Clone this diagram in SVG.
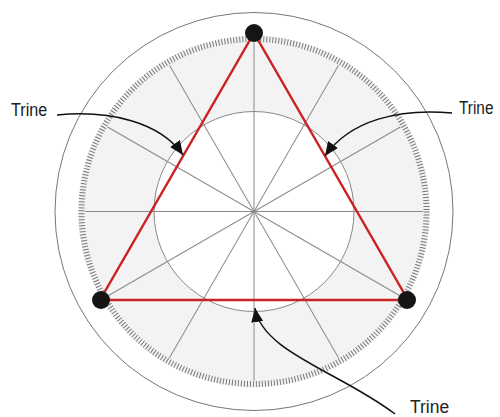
<svg xmlns="http://www.w3.org/2000/svg" width="500" height="417" viewBox="0 0 500 417">
<style>
.lbl{font-family:"Liberation Sans","Noto Sans",sans-serif;font-size:19px;fill:#222}
.spoke{stroke:#8a8a8a;stroke-width:1}
.arr{fill:none;stroke:#111;stroke-width:1.5}
</style>
<defs>
<marker id="ah" markerUnits="userSpaceOnUse" markerWidth="16" markerHeight="12" refX="14" refY="6" orient="auto">
<path d="M0,0 L14,6 L0,12 Z" fill="#111"/>
</marker>
</defs>
<rect width="500" height="417" fill="#fff"/>
<g id="wheel">
<circle cx="254" cy="211.5" r="199" fill="none" stroke="#777" stroke-width="1"/>
<circle cx="254" cy="211.5" r="176" fill="#f3f3f3"/>
<circle cx="254" cy="211.5" r="172.5" fill="none" stroke="#777" stroke-width="6" stroke-dasharray="1 2.0107"/>
<circle cx="254" cy="211.5" r="100" fill="#fff" stroke="#888" stroke-width="1"/>
<g class="spoke" transform="translate(254 211.5)">
<line x1="-169" y1="0" x2="169" y2="0"/>
<line x1="-169" y1="0" x2="169" y2="0" transform="rotate(30)"/>
<line x1="-169" y1="0" x2="169" y2="0" transform="rotate(60)"/>
<line x1="-169" y1="0" x2="169" y2="0" transform="rotate(90)"/>
<line x1="-169" y1="0" x2="169" y2="0" transform="rotate(120)"/>
<line x1="-169" y1="0" x2="169" y2="0" transform="rotate(150)"/>
</g>
</g>
<g id="triangle">
<polygon points="254,33 100,300 408,300" fill="none" stroke="#cc2222" stroke-width="2.5" stroke-linejoin="round"/>
</g>
<g id="planet-top"><circle cx="254" cy="33" r="9" fill="#151515"/></g>
<g id="planet-left"><circle cx="101" cy="300" r="9" fill="#151515"/></g>
<g id="planet-right"><circle cx="407" cy="300" r="9" fill="#151515"/></g>
<g id="connectors">
<path class="arr" d="M57,115 C110,110 160,122 183,155" marker-end="url(#ah)"/>
<path class="arr" d="M452,113 C400,108 350,120 325,156" marker-end="url(#ah)"/>
<path class="arr" d="M395,414 C340,372 262,352 255,308" marker-end="url(#ah)"/>
</g>
<g id="label-left"><text class="lbl" transform="translate(11 115.5) scale(0.85 1)">Trine</text></g>
<g id="label-right"><text class="lbl" transform="translate(459 114) scale(0.81 1)">Trine</text></g>
<g id="label-bottom"><text class="lbl" transform="translate(410 413) scale(0.92 1)">Trine</text></g>
</svg>
